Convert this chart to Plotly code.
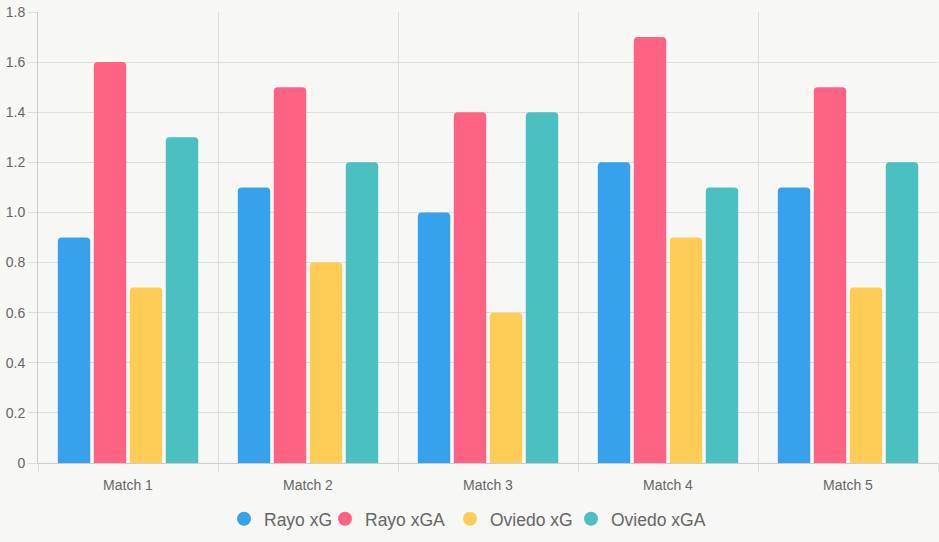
import plotly.graph_objects as go

categories = ["Match 1", "Match 2", "Match 3", "Match 4", "Match 5"]
series_names = ["Rayo xG", "Rayo xGA", "Oviedo xG", "Oviedo xGA"]
rayo_xg = [0.9, 1.1, 1.0, 1.2, 1.1]
rayo_xga = [1.6, 1.5, 1.4, 1.7, 1.5]
oviedo_xg = [0.7, 0.8, 0.6, 0.9, 0.7]
oviedo_xga = [1.3, 1.2, 1.4, 1.1, 1.2]
y_tick_vals = [0, 0.2, 0.4, 0.6, 0.8, 1.0, 1.2, 1.4, 1.6, 1.8]
y_tick_text = ["0", "0.2", "0.4", "0.6", "0.8", "1.0", "1.2", "1.4", "1.6", "1.8"]

colors = ["#36A2EB", "#FF6384", "#FFCD56", "#4BC0C0"]
values = [rayo_xg, rayo_xga, oviedo_xg, oviedo_xga]

# legend circle centre positions in pixels (layout only)
legend_px = [244, 345, 470, 591]
legend_ids = ["legend", "legend2", "legend3", "legend4"]

fig = go.Figure()
for name, vals, col in zip(series_names, values, colors):
    fig.add_trace(go.Bar(
        x=categories, y=vals, name=name, marker=dict(color=col, line=dict(width=0)),
        showlegend=False, legendgroup=name,
    ))
for name, col, lid in zip(series_names, colors, legend_ids):
    fig.add_trace(go.Scatter(
        x=[None], y=[None], mode="markers", name=name, legendgroup=name, legend=lid,
        marker=dict(color=col, size=14, symbol="circle"), showlegend=True,
    ))

plot_left, plot_w = 38, 900
legend_common = dict(orientation="h", xanchor="left", y=-0.124, yanchor="middle",
                     font=dict(size=17.5, color="#666666"), itemclick=False,
                     bgcolor="rgba(0,0,0,0)", borderwidth=0)
legends = {}
for lid, px in zip(legend_ids, legend_px):
    legends[lid] = dict(legend_common, x=(px - 20 - plot_left) / plot_w)

fig.update_layout(
    width=939, height=542,
    margin=dict(l=38, r=1, t=12, b=79),
    paper_bgcolor="#f7f7f5", plot_bgcolor="#f7f7f5",
    barmode="group", bargap=0.2, bargroupgap=0.1, barcornerradius=4,
    font=dict(family="Liberation Sans, Arial, sans-serif", color="#666666", size=14),
    showlegend=True,
    **legends,
)
fig.update_xaxes(
    type="category", tickson="boundaries", showgrid=True, gridcolor="#dddddd", gridwidth=1,
    ticks="outside", ticklen=8, tickcolor="#dddddd", showline=True, linecolor="#cccccc",
    mirror=False, tickfont=dict(size=14, color="#666666"), zeroline=False,
    ticklabelstandoff=9,
)
fig.update_yaxes(
    range=[0, 1.8], tickvals=y_tick_vals, ticktext=y_tick_text, showgrid=True,
    gridcolor="#dddddd", gridwidth=1, ticks="outside", ticklen=9, tickcolor="#dddddd",
    showline=True, linecolor="#cccccc", zeroline=False, tickfont=dict(size=14, color="#666666"),
)

fig.write_html("out.html")
